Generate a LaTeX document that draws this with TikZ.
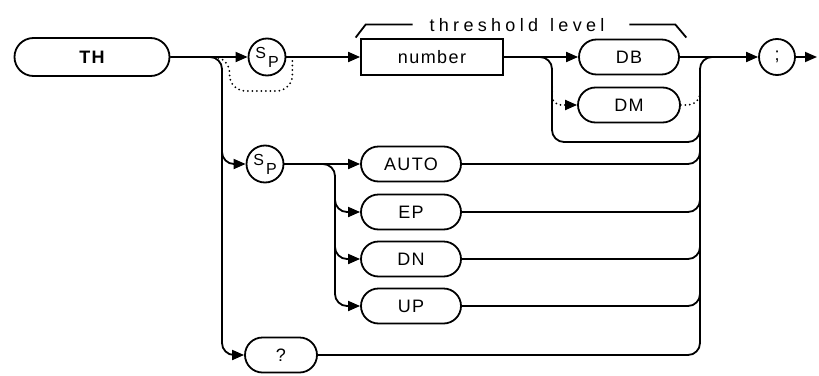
\documentclass[tikz,border=0pt]{standalone}
\usepackage{fontspec}
\newfontfamily\plotfont[LetterSpace=8]{Liberation Sans}
\newfontfamily\widefont[LetterSpace=24]{Liberation Sans}
\usetikzlibrary{arrows.meta,shapes.misc}

\begin{document}
\begin{tikzpicture}[x=1pt, y=-1pt, line width=1.8pt,
    font=\plotfont\fontsize{18}{21}\selectfont,
    key/.style={draw, rounded rectangle, minimum height=35pt, inner sep=0pt},
    spc/.style={draw, circle, minimum size=37pt, inner sep=0pt},
    flow/.style={-{Triangle[length=12pt, width=10pt]}},
    dots/.style={line width=2pt, dash pattern=on 0pt off 4.5pt, line cap=round},
    elbow/.style={rounded corners=12pt}]
  \useasboundingbox (0,0) rectangle (819,375);
  \node[key, minimum width=155pt, minimum height=38pt,
    font=\plotfont\fontsize{18}{21}\selectfont\bfseries] (th) at (92,57) {TH};
  \node[spc] (sp1) at (267,57) {\fontsize{16}{16}\selectfont S\kern2pt\raisebox{-9pt}{P}};
  \node[draw, minimum width=142pt, minimum height=36pt, inner sep=0pt] (num) at (432,57) {number};
  \node[key, minimum width=100pt] (db) at (629,57) {DB};
  \node[key, minimum width=102pt] (dm) at (629,105) {DM};
  \node[spc, minimum size=36pt] (semi) at (777,57) {;};
  \node[spc] (sp2) at (265,164) {\fontsize{16}{16}\selectfont S\kern2pt\raisebox{-9pt}{P}};
  \node[key, minimum width=100pt] (auto) at (411,164) {AUTO};
  \node[key, minimum width=100pt] (ep) at (411,212) {EP};
  \node[key, minimum width=100pt] (dn) at (411,259) {DN};
  \node[key, minimum width=100pt] (up) at (411,306) {UP};
  \node[key, minimum width=72pt] (qry) at (281,355) {?};
  \node[font=\widefont\fontsize{18}{21}\selectfont, inner sep=0pt, anchor=base]
    (lvl) at (517,31) {threshold\hspace{12pt}level};
  \draw ([xshift=-16pt]lvl.west) -- ++(-47,0) -- ++(-10,13);
  \draw ([xshift=24pt]lvl.east) -- ++(46,0) -- ++(11,13);

  \coordinate (fork) at (222,57);
  \coordinate (fan) at (335,164);
  \coordinate (drop) at (552,57);
  \coordinate (loop) at (552,142);
  \coordinate (join) at (700,57);
  \coordinate (out) at (817,57);

  \draw[flow] (th) -- (sp1);
  \draw[flow] (sp1) -- (num);
  \draw[flow] (num) -- (db);
  \draw[flow] (db) -- (semi);
  \draw[flow] (semi) -- (out);
  \draw[dots, rounded corners=16pt] ([xshift=-30pt]sp1.west) -| ++(12,34) -| ([xshift=6pt]sp1.east);

  \draw[flow, elbow] (th) -| (fork |- sp2) -- (sp2);
  \draw[flow, elbow] ([yshift=-20pt]fork) |- (qry);
  \draw[flow] (sp2) -- (auto);
  \draw[flow, elbow] (sp2) -| (fan |- ep) -- (ep);
  \draw[flow, elbow] ([yshift=-20pt]fan) |- (dn);
  \draw[flow, elbow] ([yshift=-20pt]fan) |- (up);

  \draw[elbow] (num) -| (loop) -| ([yshift=20pt]join |- loop);
  \draw[dots, flow, rounded corners=9pt] ([yshift=18pt]drop |- dm) -- (drop |- dm) -- (dm);
  \draw[dots, elbow] (dm) -| ([yshift=18pt]join |- dm);
  \draw[elbow] (auto) -| ([yshift=20pt]join |- auto);
  \draw[elbow] (ep) -| ([yshift=20pt]join |- ep);
  \draw[elbow] (dn) -| ([yshift=20pt]join |- dn);
  \draw[elbow] (up) -| ([yshift=20pt]join |- up);
  \draw[elbow] (qry) -| (join) -- ++(20,0);
\end{tikzpicture}
\end{document}
